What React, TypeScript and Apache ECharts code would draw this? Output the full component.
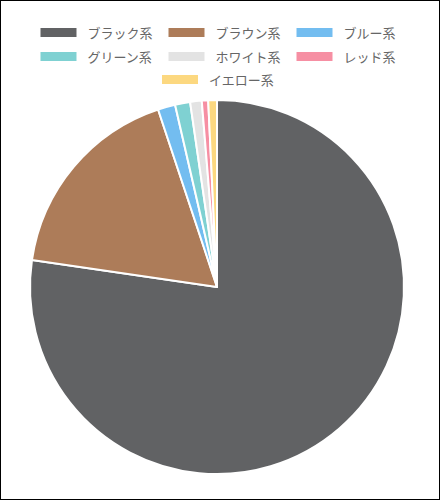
import React, { useEffect, useRef } from "react";
import * as echarts from "echarts";

const categories = ["ブラック系", "ブラウン系", "ブルー系", "グリーン系", "ホワイト系", "レッド系", "イエロー系"];
const values = [77.3, 17.6, 1.5, 1.3, 1.0, 0.55, 0.75];
const colors = ["#616264", "#ad7c59", "#73bdf0", "#7fd1d2", "#e3e3e3", "#f68fa3", "#fcd880"];
// legend rows as in the original layout
const legendRows = [categories.slice(0, 3), categories.slice(3, 6), categories.slice(6)];
const legendTops = [20, 44, 67];

const App: React.FC = () => {
    const chartRef = useRef<HTMLDivElement>(null);

    useEffect(() => {
        document.body.style.margin = "0";
        if (!chartRef.current) return;
        const chart = echarts.init(chartRef.current, null, { renderer: "svg" });

        const option = {
            animation: false,
            color: colors,
            textStyle: { fontFamily: "Noto Sans CJK JP" },
            legend: legendRows.map((row, i) => ({
                top: legendTops[i],
                left: "center",
                itemWidth: 38,
                itemHeight: 11,
                itemGap: 14,
                icon: "rect",
                textStyle: { fontSize: 13, color: "#666", padding: [0, 3, 0, 5] },
                data: row,
            })),
            series: [
                {
                    type: "pie",
                    center: [216, 286],
                    radius: 187,
                    startAngle: 90,
                    clockwise: true,
                    label: { show: false },
                    labelLine: { show: false },
                    itemStyle: { borderColor: "#fff", borderWidth: 2 },
                    emphasis: { disabled: true },
                    data: categories.map((name, i) => ({ name, value: values[i] })),
                },
            ],
        };

        chart.setOption(option);
        return () => chart.dispose();
    }, []);

    return (
        <div
            style={{
                position: "absolute",
                left: 0,
                top: 0,
                width: 440,
                height: 500,
                border: "1px solid #000",
                boxSizing: "border-box",
                background: "#fff",
            }}
        >
            <div ref={chartRef} style={{ width: 432, height: 498 }} />
        </div>
    );
};

export default App;
